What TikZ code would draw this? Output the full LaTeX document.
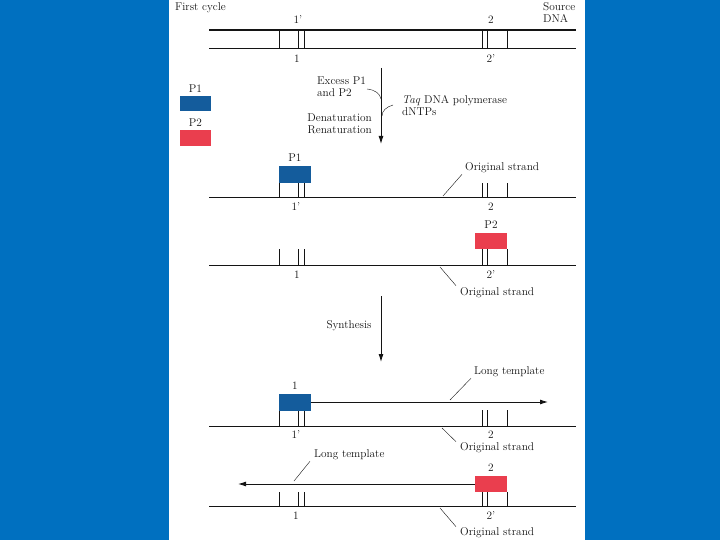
\documentclass[tikz,border=0pt]{standalone}
\usetikzlibrary{arrows.meta,positioning}
\definecolor{slideblue}{RGB}{0,112,192}
\definecolor{primerone}{RGB}{20,92,156}
\definecolor{primertwo}{RGB}{234,62,78}
\definecolor{ink}{RGB}{20,20,20}

\begin{document}
\begin{tikzpicture}[x=1pt, y=-1pt, every node/.style={text=ink},
  lbl/.style = {font=\fontsize{11.3}{12}\selectfont, inner sep=0pt},
  strand/.style = {draw=ink, line width=1pt},
  tick/.style = {draw=ink, line width=0.8pt},
  leader/.style = {draw=ink, line width=0.4pt},
  primerA/.style = {fill=primerone, minimum width=32pt, minimum height=17pt, inner sep=0pt},
  primerB/.style = {fill=primertwo, minimum width=32pt, minimum height=16pt, inner sep=0pt},
  flow/.style = {draw=ink, line width=0.9pt, -{Latex[length=8pt,width=5pt]}}]

  % slide background
  \fill[slideblue] (0,0) rectangle (720,540);
  \fill[white] (169,0) rectangle (585,540);

  % source DNA
  \node[lbl, anchor=west] (cycle) at (175,8) {First cycle};
  \node[lbl, anchor=north west, align=left] (source) at (543,2) {Source\\DNA};
  \coordinate (srcTL) at (209,30);  \coordinate (srcTR) at (576,30);
  \coordinate (srcBL) at (209,49);  \coordinate (srcBR) at (576,49);
  \draw[strand, line width=1.5pt] (srcTL) -- (srcTR);
  \draw[strand] (srcBL) -- (srcBR);
  \node[lbl] (s1p) at (298,20) {1'};
  \node[lbl] (s2) at (491,20) {2};
  \node[lbl] (s1) at (297,59) {1};
  \node[lbl] (s2p) at (491,59) {2'};

  % primers legend
  \node[primerA, minimum width=31pt, minimum height=15pt] (legP1) at (195.5,103.5) {};
  \node[lbl, above=3pt of legP1] {P1};
  \node[primerB, minimum width=31pt] (legP2) at (195.5,138) {};
  \node[lbl, above=3pt of legP2] {P2};

  % first step
  \coordinate (stepA) at (381,68);
  \coordinate (stepB) at (381,144);
  \draw[flow] (stepA) -- (stepB);
  \node[lbl, anchor=west, align=left] (excess) at (317,87) {Excess P1\\and P2};
  \node[lbl, anchor=west, align=left] (taq) at (402,105.5) {\textit{Taq} DNA polymerase\\dNTPs};
  \node[lbl, anchor=east, align=right] (denat) at (372,123.5) {Denaturation\\Renaturation};
  \coordinate (excessEnd) at (367,89);
  \coordinate (taqEnd) at (393,105);
  \draw[leader] (excessEnd) .. controls (376,90) and (380,94) .. (381,99);
  \draw[leader] (taqEnd) .. controls (386,107) and (382,111) .. (382,116);

  % strands with primers bound
  \coordinate (aL) at (209,198);  \coordinate (aR) at (576,198);
  \coordinate (bL) at (209,265);  \coordinate (bR) at (576,265);
  \coordinate (cL) at (209,426);  \coordinate (cR) at (576,426);
  \coordinate (dL) at (209,506);  \coordinate (dR) at (576,506);
  \draw[strand] (aL) -- (aR);
  \draw[strand] (bL) -- (bR);
  \draw[strand] (cL) -- (cR);
  \draw[strand] (dL) -- (dR);

  \foreach \ybot/\ytop in {49/30, 198/183, 265/249, 426/410, 506/492}
    \foreach \xt in {279,298,304,482,487,507}
      \draw[tick] (\xt,\ybot) -- (\xt,\ytop);

  \node[primerA] (boxA) at (295,174.5) {};
  \node[lbl, above=4pt of boxA] {P1};
  \node[lbl] (a1p) at (296,207) {1'};
  \node[lbl] (a2) at (491,207) {2};
  \node[lbl, anchor=west] (origA) at (465,168) {Original strand};
  \coordinate (legA) at (443,196);
  \draw[leader] (legA) -- ([xshift=-3pt,yshift=-1pt]origA.south west);

  \node[primerB] (boxB) at (491,241) {};
  \node[lbl, above=4pt of boxB] {P2};
  \node[lbl] (b1) at (297,275) {1};
  \node[lbl] (b2p) at (491,275) {2'};
  \node[lbl, anchor=west] (origB) at (460,293) {Original strand};
  \coordinate (legB) at (440,267);
  \draw[leader] (legB) -- ([xshift=-4pt,yshift=2pt]origB.north west);

  % synthesis
  \coordinate (synA) at (381,296);
  \coordinate (synB) at (381,362);
  \draw[flow] (synA) -- (synB);
  \node[lbl] (synth) at (349,326) {Synthesis};

  \node[primerA] (boxC) at (295,402) {};
  \node[lbl, above=4pt of boxC] {1};
  \coordinate (tipC) at (548,402);
  \draw[flow] (boxC.east) -- (tipC);
  \node[lbl, anchor=west] (longC) at (474,372) {Long template};
  \coordinate (legC) at (450,400);
  \draw[leader] (legC) -- ([xshift=-3pt,yshift=-1pt]longC.south west);
  \node[lbl] (c1p) at (296,435) {1'};
  \node[lbl] (c2) at (491,435) {2};
  \node[lbl, anchor=west] (origC) at (460,448) {Original strand};
  \coordinate (legC2) at (442,428);
  \draw[leader] (legC2) -- ([xshift=-4pt,yshift=1pt]origC.north west);

  \node[primerB] (boxD) at (491,484) {};
  \node[lbl, above=4pt of boxD] {2};
  \coordinate (tipD) at (238,484);
  \draw[flow] (boxD.west) -- (tipD);
  \node[lbl, anchor=west] (longD) at (314,455) {Long template};
  \coordinate (legD) at (294,481);
  \draw[leader] (legD) -- ([xshift=-4pt,yshift=-1pt]longD.south west);
  \node[lbl] (d1) at (296,516) {1};
  \node[lbl] (d2p) at (491,516) {2'};
  \node[lbl, anchor=west] (origD) at (460,533) {Original strand};
  \coordinate (legD2) at (440,508);
  \draw[leader] (legD2) -- ([xshift=-4pt,yshift=1pt]origD.north west);
\end{tikzpicture}
\end{document}
